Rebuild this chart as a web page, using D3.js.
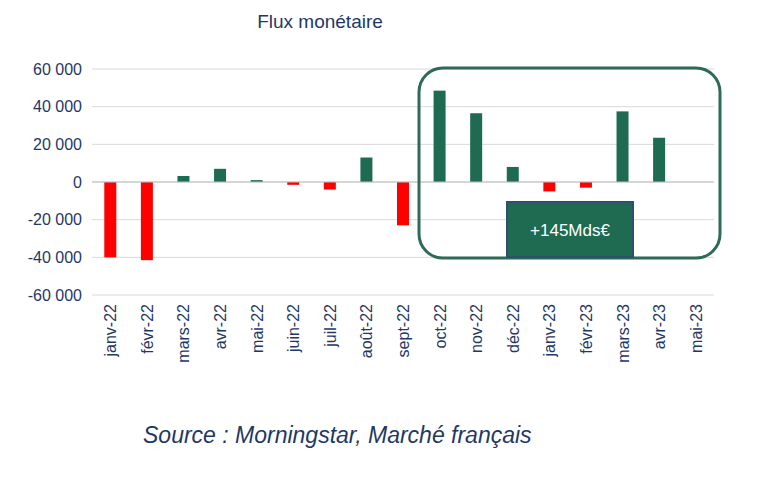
<!DOCTYPE html>
<html><head><meta charset="utf-8">
<script src="https://cdn.jsdelivr.net/npm/d3@7"></script>
<style>body{margin:0;background:#fff}</style>
</head><body>
<script>
const months = ["janv-22","févr-22","mars-22","avr-22","mai-22","juin-22","juil-22","août-22","sept-22","oct-22","nov-22","déc-22","janv-23","févr-23","mars-23","avr-23","mai-23"];
const flows = [-40000,-41500,3200,7000,1000,-1500,-4000,13000,-23000,48500,36500,8000,-5000,-3000,37500,23500,0];
const yTicks = [-60000,-40000,-20000,0,20000,40000,60000];
const navy = "#1f3864", green = "#1e6b52";

const svg = d3.select("body").append("svg").attr("width",764).attr("height",478)
  .style("font-family","'Liberation Sans', sans-serif");

const x = d3.scaleBand().domain(months).range([92,714]);
const y = d3.scaleLinear().domain([-60000,60000]).range([295,69]);

// gridlines
svg.append("g").selectAll("line").data(yTicks).join("line")
  .attr("x1",92).attr("x2",714).attr("y1",d=>y(d)).attr("y2",d=>y(d))
  .attr("stroke","#d9d9d9");

svg.append("g").attr("transform","translate(92,0)")
  .call(d3.axisLeft(y).tickValues(yTicks).tickSize(0).tickPadding(10)
    .tickFormat(d=>d3.format(",")(d).replace(/,/g," ").replace("−","-")))
  .call(g=>g.select(".domain").remove())
  .selectAll("text").attr("fill",navy).attr("font-size",16);

// bars
svg.append("g").selectAll("rect").data(flows).join("rect")
  .attr("x",(d,i)=>x(months[i])+x.bandwidth()/2-6)
  .attr("width",12)
  .attr("y",d=>y(Math.max(d,0)))
  .attr("height",d=>Math.abs(y(d)-y(0)))
  .attr("fill",d=>d<0?"#ff0000":green);

// zero axis
svg.append("line").attr("x1",92).attr("x2",714).attr("y1",y(0)).attr("y2",y(0))
  .attr("stroke","#bfbfbf");

// month labels
svg.append("g").selectAll("text").data(months).join("text")
  .attr("transform",d=>`translate(${x(d)+x.bandwidth()/2+6},304) rotate(-90)`)
  .attr("text-anchor","end").attr("fill",navy).attr("font-size",16).text(d=>d);

// highlight box
svg.append("rect").attr("x",419).attr("y",68).attr("width",301).attr("height",190)
  .attr("rx",24).attr("fill","none").attr("stroke","#2e6b57").attr("stroke-width",3);
svg.append("rect").attr("x",507).attr("y",202).attr("width",126).attr("height",55)
  .attr("fill",green).attr("stroke","#2f4f6f").attr("stroke-width",2);
svg.append("text").attr("x",570).attr("y",236).attr("text-anchor","middle")
  .attr("fill","#fff").attr("font-size",17).text("+145Mds€");

svg.append("text").attr("x",320).attr("y",28).attr("text-anchor","middle")
  .attr("fill",navy).attr("font-size",19).text("Flux monétaire");
svg.append("text").attr("x",143).attr("y",443).attr("fill",navy)
  .attr("font-size",23).attr("font-style","italic").text("Source : Morningstar, Marché français");
</script>
</body></html>
